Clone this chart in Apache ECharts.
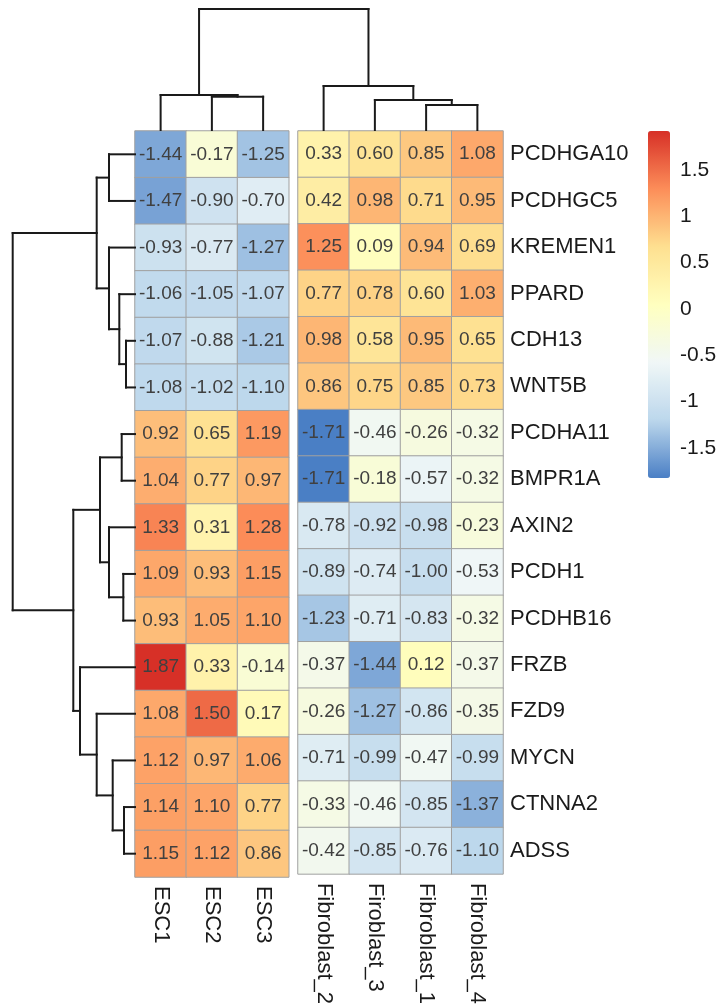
<!DOCTYPE html>
<html>
<head>
<meta charset="utf-8">
<script src="https://cdn.jsdelivr.net/npm/echarts@6/dist/echarts.min.js"></script>
<style>
  html, body { margin: 0; padding: 0; background: #fff; }
  #chart { width: 721px; height: 1007px; }
</style>
</head>
<body>
<div id="chart"></div>
<script>
// genes (rows, top to bottom) and samples (columns)
const rows = ['PCDHGA10', 'PCDHGC5', 'KREMEN1', 'PPARD', 'CDH13', 'WNT5B', 'PCDHA11', 'BMPR1A',
  'AXIN2', 'PCDH1', 'PCDHB16', 'FRZB', 'FZD9', 'MYCN', 'CTNNA2', 'ADSS'];
const escCols = ['ESC1', 'ESC2', 'ESC3'];
const fibCols = ['Fibroblast_2', 'Firoblast_3', 'Fibroblast_1', 'Fibroblast_4'];

// z-scores, one row per gene
const escValues = [
  [-1.44, -0.17, -1.25], [-1.47, -0.90, -0.70], [-0.93, -0.77, -1.27], [-1.06, -1.05, -1.07],
  [-1.07, -0.88, -1.21], [-1.08, -1.02, -1.10], [0.92, 0.65, 1.19], [1.04, 0.77, 0.97],
  [1.33, 0.31, 1.28], [1.09, 0.93, 1.15], [0.93, 1.05, 1.10], [1.87, 0.33, -0.14],
  [1.08, 1.50, 0.17], [1.12, 0.97, 1.06], [1.14, 1.10, 0.77], [1.15, 1.12, 0.86]
];
const fibValues = [
  [0.33, 0.60, 0.85, 1.08], [0.42, 0.98, 0.71, 0.95], [1.25, 0.09, 0.94, 0.69], [0.77, 0.78, 0.60, 1.03],
  [0.98, 0.58, 0.95, 0.65], [0.86, 0.75, 0.85, 0.73], [-1.71, -0.46, -0.26, -0.32], [-1.71, -0.18, -0.57, -0.32],
  [-0.78, -0.92, -0.98, -0.23], [-0.89, -0.74, -1.00, -0.53], [-1.23, -0.71, -0.83, -0.32], [-0.37, -1.44, 0.12, -0.37],
  [-0.26, -1.27, -0.86, -0.35], [-0.71, -0.99, -0.47, -0.99], [-0.33, -0.46, -0.85, -1.37], [-0.42, -0.85, -0.76, -1.10]
];

// dendrograms: [height, left, right], leaves are row / column indices
const rowTree = [122.3,
  [38.3, [26, 0, 1], [26, 2, [15.7, 3, [9, 4, 5]]]],
  [61.7, [35, [13.3, 6, 7], [26, 8, [11.7, 9, 10]]], [55, 11, [38.3, 12, [22.3, 13, [11, 14, 15]]]]]];
const colTree = [121, [35, 0, [33.3, 1, 2]], [44, 3, [30, 4, [25, 5, 6]]]];

// colour key
const legendTicks = [-1.5, -1, -0.5, 0, 0.5, 1, 1.5];
const palette = ['#4A7FC5', '#BCD7EC', '#F0F7F7', '#FFFFBF', '#FEE090', '#FC8D59', '#D73027'];

const FONT = "'Liberation Sans', Arial, sans-serif";
const cellW = 51.25, cellH = 46.625, left0 = 135, top0 = 131, gap = 9.25;
const gapUnits = gap / cellW;
const escW = cellW * escCols.length, fibW = cellW * fibCols.length, heatH = cellH * rows.length;

function toCells(values) {
  const out = [];
  values.forEach((row, r) => row.forEach((v, c) => out.push([c, r, v])));
  return out;
}

// walk a tree and collect the elbow segments, leafPos maps leaf index -> position
function treeSegments(tree, leafPos) {
  const segs = [];
  function walk(node) {
    if (typeof node === 'number') return { pos: leafPos(node), h: 0 };
    const [h, l, r] = node;
    const L = walk(l), R = walk(r);
    segs.push([L.pos, L.h, L.pos, h]);
    segs.push([R.pos, R.h, R.pos, h]);
    segs.push([L.pos, h, R.pos, h]);
    return { pos: (L.pos + R.pos) / 2, h: h };
  }
  walk(tree);
  return segs;
}

const nCols = escCols.length;
const colSegs = treeSegments(colTree, i => i + 0.5 + (i >= nCols ? gapUnits : 0));
// row segments in (height, row) order
const rowSegs = treeSegments(rowTree, i => i + 0.5).map(s => [s[1], s[0], s[3], s[2]]);

function renderSeg(params, api) {
  const a = api.coord([api.value(0), api.value(1)]);
  const b = api.coord([api.value(2), api.value(3)]);
  return {
    type: 'line',
    shape: { x1: a[0], y1: a[1], x2: b[0], y2: b[1] },
    style: { stroke: '#1a1a1a', lineWidth: 2, lineCap: 'square' }
  };
}

const cellLabel = {
  show: true,
  formatter: p => p.value[2].toFixed(2),
  fontSize: 19,
  fontFamily: FONT,
  color: '#404040'
};
const cellStyle = { borderColor: '#a0a0a0', borderWidth: 1 };
const colLabel = { rotate: -90, fontSize: 22, fontFamily: FONT, color: '#1a1a1a', margin: 9 };
const hidden = { show: false };

const chart = echarts.init(document.getElementById('chart'));
chart.setOption({
  animation: false,
  backgroundColor: '#fff',
  grid: [
    { left: left0, top: top0, width: escW, height: heatH },
    { left: left0 + escW + gap, top: top0, width: fibW, height: heatH },
    { left: 0, top: top0, width: left0, height: heatH },
    { left: left0, top: 0, width: escW + gap + fibW, height: top0 - 1 },
    { left: 648, top: 131, width: 22, height: 347 }
  ],
  xAxis: [
    { type: 'category', gridIndex: 0, data: escCols, position: 'bottom', axisLine: hidden, axisTick: hidden, axisLabel: colLabel },
    { type: 'category', gridIndex: 1, data: fibCols, position: 'bottom', axisLine: hidden, axisTick: hidden, axisLabel: colLabel },
    { type: 'value', gridIndex: 2, min: 0, max: left0, inverse: true, show: false },
    { type: 'value', gridIndex: 3, min: 0, max: escCols.length + fibCols.length + gapUnits, show: false },
    { type: 'value', gridIndex: 4, min: 0, max: 1, show: false }
  ],
  yAxis: [
    { type: 'category', gridIndex: 0, data: rows, inverse: true, show: false },
    {
      type: 'category', gridIndex: 1, data: rows, inverse: true, position: 'right',
      axisLine: hidden, axisTick: hidden,
      axisLabel: { fontSize: 22, fontFamily: FONT, color: '#1a1a1a', margin: 7 }
    },
    { type: 'value', gridIndex: 2, min: 0, max: rows.length, inverse: true, show: false },
    { type: 'value', gridIndex: 3, min: 0, max: top0 - 1, show: false },
    {
      type: 'value', gridIndex: 4, min: -1.824, max: 1.921, position: 'right',
      axisLine: hidden, axisTick: hidden, splitLine: hidden,
      axisLabel: { customValues: legendTicks, fontSize: 21, fontFamily: FONT, color: '#1a1a1a', margin: 10 }
    }
  ],
  visualMap: {
    type: 'continuous',
    min: -1.71,
    max: 1.87,
    seriesIndex: [0, 1],
    inRange: { color: palette },
    left: 648,
    top: 131,
    itemWidth: 22,
    itemHeight: 347,
    padding: 0,
    calculable: false,
    hoverLink: false,
    text: null
  },
  series: [
    { type: 'heatmap', xAxisIndex: 0, yAxisIndex: 0, data: toCells(escValues), label: cellLabel, itemStyle: cellStyle, emphasis: { disabled: true } },
    { type: 'heatmap', xAxisIndex: 1, yAxisIndex: 1, data: toCells(fibValues), label: cellLabel, itemStyle: cellStyle, emphasis: { disabled: true } },
    { type: 'custom', xAxisIndex: 2, yAxisIndex: 2, data: rowSegs, renderItem: renderSeg, clip: false, silent: true },
    { type: 'custom', xAxisIndex: 3, yAxisIndex: 3, data: colSegs, renderItem: renderSeg, clip: false, silent: true }
  ]
});
</script>
</body>
</html>
